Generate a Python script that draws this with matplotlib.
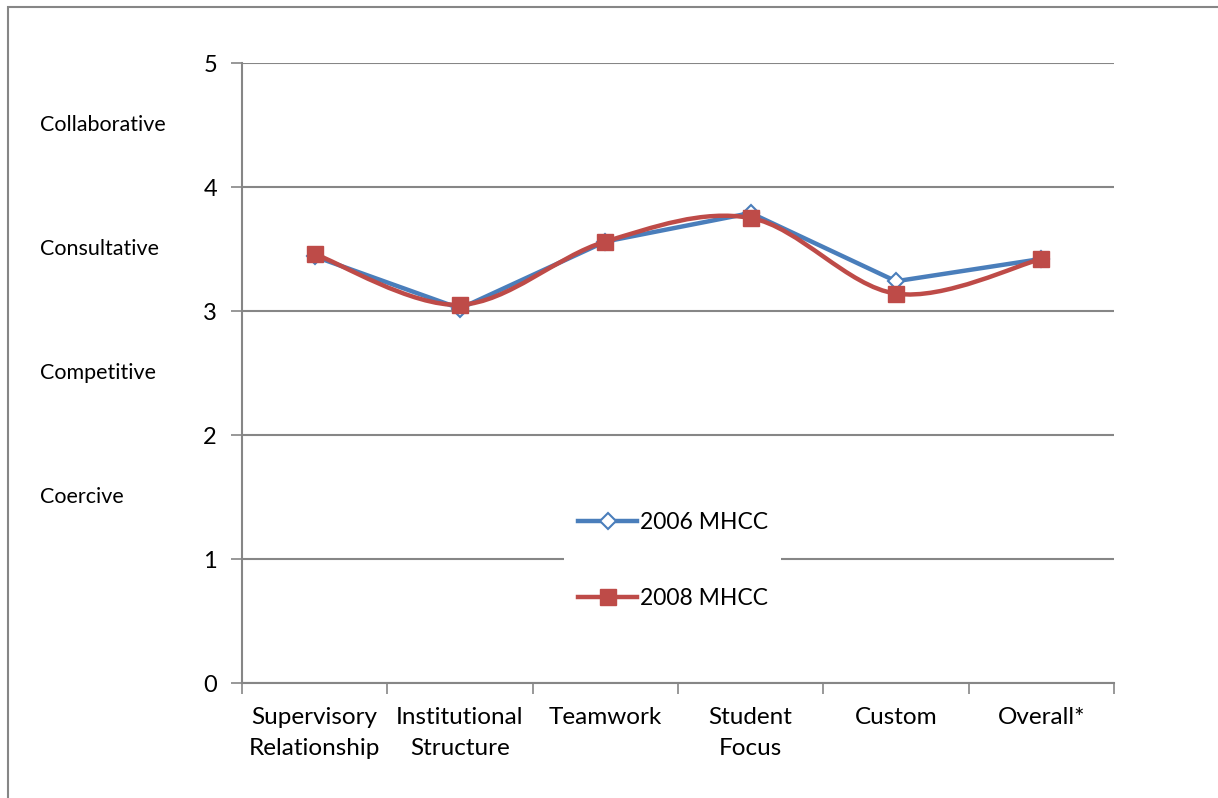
import matplotlib
matplotlib.use("Agg")
import matplotlib.pyplot as plt
from matplotlib.path import Path
from matplotlib.patches import PathPatch, Rectangle
from matplotlib.lines import Line2D
from matplotlib.transforms import blended_transform_factory

# datos
categorias = ["Supervisory\nRelationship", "Institutional\nStructure", "Teamwork",
              "Student\nFocus", "Custom", "Overall*"]
mhcc_2006 = [3.44, 3.02, 3.56, 3.79, 3.24, 3.42]
mhcc_2008 = [3.46, 3.05, 3.56, 3.75, 3.14, 3.42]
estilos = ["Collaborative", "Consultative", "Competitive", "Coercive"]
estilos_y = [4.5, 3.5, 2.5, 1.5]

azul = "#4A7EBB"
rojo = "#BE4B48"
gris = "#868686"
fuente = "Lato"


def curva_suave(xs, ys):
    # curva tipo excel (catmull-rom con bezier)
    n = len(xs)
    verts = [(xs[0], ys[0])]
    codes = [Path.MOVETO]
    for i in range(n - 1):
        x0, y0 = (xs[i - 1], ys[i - 1]) if i > 0 else (xs[i], ys[i])
        x1, y1 = xs[i], ys[i]
        x2, y2 = xs[i + 1], ys[i + 1]
        x3, y3 = (xs[i + 2], ys[i + 2]) if i + 2 < n else (x2, y2)
        c1 = (x1 + (x2 - x0) / 6, y1 + (y2 - y0) / 6)
        c2 = (x2 - (x3 - x1) / 6, y2 - (y3 - y1) / 6)
        verts += [c1, c2, (x2, y2)]
        codes += [Path.CURVE4] * 3
    return Path(verts, codes)


fig = plt.figure(figsize=(12.18, 7.98), dpi=100)
fig.patches.append(Rectangle((8 / 1218, -0.1), 1.2, 1 - 7 / 798 + 0.1,
                             transform=fig.transFigure, fill=False,
                             edgecolor=gris, linewidth=1.5))
ax = fig.add_axes([242 / 1218, 1 - 683 / 798, 872 / 1218, 620 / 798])

x = list(range(len(categorias)))
ax.set_xlim(-0.5, len(categorias) - 0.5)
ax.set_ylim(0, 5)

ax.plot(x, mhcc_2006, color=azul, lw=3.2, marker="D", ms=8, mfc="white",
        mec=azul, mew=1.5, zorder=3, solid_capstyle="round")
ax.add_patch(PathPatch(curva_suave(x, mhcc_2008), facecolor="none",
                       edgecolor=rojo, lw=3.2, zorder=4, capstyle="round"))
ax.plot(x, mhcc_2008, ls="none", marker="s", ms=11, color=rojo, zorder=5)

ax.set_yticks(range(6))
ax.set_yticklabels([str(v) for v in range(6)], fontsize=17, family=fuente)
ax.set_xticks(x)
ax.set_xticklabels(categorias, fontsize=17.5, family=fuente, linespacing=1.6)
ax.set_xticks([v - 0.5 for v in range(len(categorias) + 1)], minor=True)
ax.tick_params(axis="x", which="major", length=0, pad=17)
ax.tick_params(axis="x", which="minor", length=8, color=gris, width=1.2)
ax.tick_params(axis="y", length=8, color=gris, width=1.2, pad=10)
ax.grid(axis="y", color=gris, lw=1.5)
ax.set_axisbelow(True)
for lado in ["top", "right"]:
    ax.spines[lado].set_visible(False)
for lado in ["left", "bottom"]:
    ax.spines[lado].set_color(gris)
    ax.spines[lado].set_linewidth(1.5)

trans = blended_transform_factory(fig.transFigure, ax.transData)
for texto, yv in zip(estilos, estilos_y):
    ax.text(40 / 1218, yv, texto, transform=trans,
            fontsize=15.5, family=fuente, va="center", ha="left")

manejadores = [
    Line2D([], [], color=azul, lw=3.2, marker="D", ms=8, mfc="white", mec=azul, mew=1.5),
    Line2D([], [], color=rojo, lw=3.2, marker="s", ms=11),
]
leg = ax.legend(manejadores, ["2006 MHCC", "2008 MHCC"], loc="center",
                bbox_to_anchor=(0.494, 0.198), frameon=True, fancybox=False,
                edgecolor="none", facecolor="white", framealpha=1,
                prop={"family": fuente, "size": 16.5}, labelspacing=2.4,
                handlelength=2.6, handletextpad=0.1, borderpad=0.6,
                borderaxespad=0)
leg.set_zorder(6)

fig.savefig("out.png", dpi=100)
